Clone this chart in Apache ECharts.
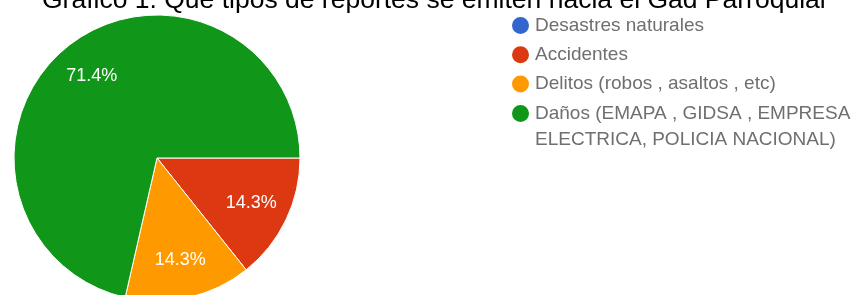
<!DOCTYPE html>
<html>
<head>
<meta charset="utf-8">
<script src="https://cdn.jsdelivr.net/npm/echarts@6/dist/echarts.min.js"></script>
<style>
  html, body { margin: 0; padding: 0; background: #fff; }
  #chart { width: 858px; height: 295px; }
</style>
</head>
<body>
<div id="chart"></div>
<script>
// datos
var titulo = 'Gráfico 1. Qué tipos de reportes se emiten hacia el Gad Parroquial';
var categorias = [
  'Desastres naturales',
  'Accidentes',
  'Delitos (robos , asaltos , etc)',
  'Daños (EMAPA , GIDSA , EMPRESA ELECTRICA, POLICIA NACIONAL)'
];
var respuestas = [0, 1, 1, 5];
var colores = ['#3366cc', '#dc3912', '#ff9900', '#109618'];

var datos = categorias.map(function (c, i) {
  return { name: c, value: respuestas[i] };
});

var fuente = 'Liberation Sans, Arial, sans-serif';

// estilo comun de la leyenda
function leyenda(items, top, formato) {
  return {
    orient: 'vertical',
    left: 510,
    top: top,
    padding: 0,
    icon: 'circle',
    itemWidth: 19,
    itemHeight: 19,
    itemGap: 3.3,
    itemTextGap: 9,
    selectedMode: false,
    data: items,
    formatter: formato,
    textStyle: {
      fontFamily: fuente,
      fontSize: 19,
      lineHeight: 26,
      color: '#6f6f6f'
    }
  };
}

var myChart = echarts.init(document.getElementById('chart'));

myChart.setOption({
  animation: false,
  color: colores,
  title: {
    text: titulo,
    left: 42,
    top: -13,
    padding: 0,
    textStyle: {
      fontFamily: fuente,
      fontSize: 26.5,
      fontWeight: 'normal',
      color: '#000'
    }
  },
  legend: [
    leyenda(categorias.slice(0, 3), 12.5, '{name}'),
    // texto largo en dos lineas; la linea vacia de arriba deja el icono
    // a la altura de la primera linea
    leyenda(categorias.slice(3), 74.5, function (name) {
      return '\n' + name.replace(' ELECTRICA', '\nELECTRICA');
    })
  ],
  series: [
    {
      // tarta
      type: 'pie',
      center: [157, 158],
      radius: [0, 143],
      startAngle: 0,
      clockwise: true,
      avoidLabelOverlap: false,
      itemStyle: { borderColor: '#fff', borderWidth: 1 },
      label: { show: false },
      labelLine: { show: false },
      emphasis: { disabled: true },
      data: datos
    },
    {
      // solo etiquetas, un poco mas afuera que el centro del radio
      type: 'pie',
      center: [157, 158],
      radius: [60, 143],
      startAngle: 0,
      clockwise: true,
      silent: true,
      percentPrecision: 1,
      avoidLabelOverlap: false,
      itemStyle: { color: 'rgba(0,0,0,0)', borderWidth: 0 },
      label: {
        show: true,
        position: 'inside',
        fontFamily: fuente,
        fontSize: 18,
        color: '#fff',
        formatter: function (p) {
          return p.value ? p.percent.toFixed(1) + '%' : '';
        }
      },
      labelLine: { show: false },
      emphasis: { disabled: true },
      data: datos
    }
  ]
});
</script>
</body>
</html>
